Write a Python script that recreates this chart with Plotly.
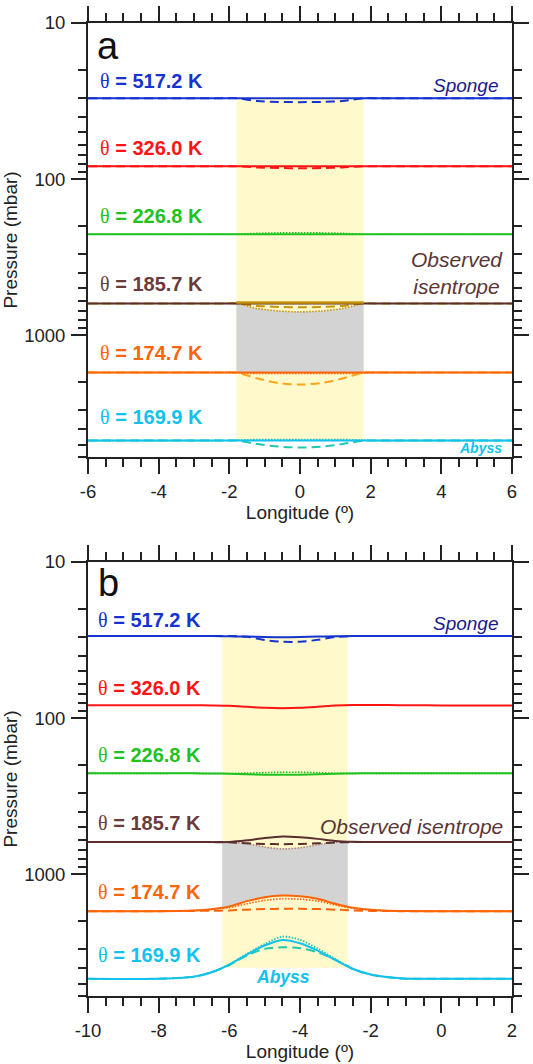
import numpy as np
import plotly.graph_objects as go

# ---------------- DATA ----------------
# Panel a (longitude -6..6)
xa = [-6, -3, -2.2, -1.8, -1.2, -0.6, 0, 0.6, 1.2, 1.8, 2.2, 3, 6]
a_blue_solid = [30.3] * 13
a_blue_dash = [30.3, 30.3, 30.3, 30.3, 31.6, 32.0, 32.1, 32.0, 31.6, 30.3, 30.3, 30.3, 30.3]
a_red_solid = [82.6] * 13
a_red_dash = [82.6, 82.6, 82.6, 82.6, 84.1, 84.8, 85.1, 84.8, 84.1, 82.6, 82.6, 82.6, 82.6]
a_green_solid = [225] * 13
a_green_dot = [225, 225, 225, 225, 222, 220.5, 220, 220.5, 222, 225, 225, 225, 225]
a_brown_solid = [624] * 13
a_ochre_solid = [None, None, None, 616, 616, 616, 616, 616, 616, 616, None, None, None]
a_ochre_dash = [624, 624, 624, 624, 647, 657, 661, 657, 647, 624, 624, 624, 624]
a_ochre_dot = [624, 624, 624, 624, 673, 697, 707, 697, 673, 624, 624, 624, 624]
a_orange_solid = [1727] * 13
a_orange_dot = [1727, 1727, 1727, 1740, 1753, 1753, 1753, 1753, 1753, 1740, 1727, 1727, 1727]
a_lorange_dash = [1727, 1727, 1727, 1727, 1887, 2017, 2062, 2017, 1887, 1727, 1727, 1727, 1727]
a_cyan_solid = [4710] * 13
a_teal_dash = [4710, 4710, 4710, 4710, 4960, 5146, 5220, 5146, 4960, 4710, 4710, 4710, 4710]
a_teal_dot = [4710, 4710, 4710, 4680, 4640, 4640, 4640, 4640, 4640, 4680, 4710, 4710, 4710]

a_yellow_x = [-1.8, 1.8]
a_yellow_p = [30.3, 4710]
a_grey_x = [-1.8, -1.2, -0.6, 0, 0.6, 1.2, 1.8]
a_grey_top = [624, 673, 697, 707, 697, 673, 624]
a_grey_bot = [1727] * 7

# Panel b (longitude -10..2)
xb = [-10, -8, -7, -6.5, -6, -5.5, -5, -4.5, -4, -3.5, -3, -2.5, -2, -1.5, -1, 0, 2]
b_blue_solid = [29.8, 29.8, 29.8, 29.8, 29.9, 30.0, 30.2, 30.3, 30.2, 30.0, 29.9, 29.8, 29.8, 29.8, 29.8, 29.8, 29.8]
b_blue_dash = [29.8, 29.8, 29.8, 29.8, 29.8, 30.1, 31.6, 32.4, 32.4, 31.5, 30.2, 29.8, 29.8, 29.8, 29.8, 29.8, 29.8]
b_red_solid = [82.6, 82.6, 82.5, 82.8, 83.3, 84.6, 85.8, 86.3, 85.8, 84.5, 83.0, 82.3, 82.2, 82.4, 82.6, 82.8, 83.0]
b_green_solid = [225.3, 225.3, 225.3, 225.8, 226.5, 228.5, 229.8, 230.3, 229.8, 228.3, 226.5, 225.5, 225.3, 225.3, 225.3, 225.3, 225.3]
b_green_dot = [225.3, 225.3, 225.3, 225.8, 226.0, 224.5, 223.0, 222.0, 222.0, 223.0, 225.0, 225.5, 225.3, 225.3, 225.3, 225.3, 225.3]
b_brown_solid = [621, 621, 621, 621, 620, 605, 585, 572, 578, 592, 610, 618, 620, 621, 621, 621, 621]
b_brown_dash = [621, 621, 621, 621, 622, 632, 638, 640, 638, 632, 624, 621, 621, 621, 621, 621, 621]
b_brown_dot = [621, 621, 621, 621, 621, 635, 668, 686, 675, 645, 623, 621, 621, 621, 621, 621, 621]
b_orange_solid = [1718, 1718, 1702, 1668, 1604, 1482, 1398, 1364, 1377, 1432, 1542, 1636, 1685, 1710, 1716, 1718, 1718]
b_orange_dot = [1718, 1718, 1702, 1672, 1630, 1540, 1465, 1432, 1440, 1480, 1570, 1650, 1690, 1712, 1716, 1718, 1718]
b_orange_dash = [1718, 1718, 1712, 1708, 1700, 1680, 1665, 1660, 1660, 1665, 1680, 1700, 1712, 1716, 1718, 1718, 1718]
b_cyan_solid = [4660, 4650, 4510, 4230, 3780, 3260, 2850, 2625, 2755, 3070, 3525, 4030, 4375, 4550, 4645, 4660, 4660]
b_teal_dash = [4660, 4650, 4510, 4230, 3800, 3300, 2995, 2925, 2965, 3150, 3525, 4030, 4375, 4550, 4645, 4660, 4660]
b_teal_dot = [4660, 4650, 4510, 4230, 3760, 3220, 2790, 2500, 2620, 2980, 3480, 4000, 4375, 4550, 4645, 4660, 4660]

b_yellow_x = [-6.2, -2.65]
b_yellow_p = [29.8, 3960]
b_grey_x = [-6.2, -6, -5.5, -5, -4.5, -4, -3.5, -3, -2.65]
b_grey_top = [621, 621, 635, 668, 686, 675, 645, 623, 621]
b_grey_bot = [1635, 1604, 1482, 1398, 1364, 1377, 1432, 1542, 1610]

theta_labels = ["517.2 K", "326.0 K", "226.8 K", "185.7 K", "174.7 K", "169.9 K"]
y_tickvals = [10, 100, 1000]
y_minor = [20, 30, 40, 50, 60, 70, 80, 90, 200, 300, 400, 500, 600, 700, 800, 900,
           2000, 3000, 4000, 5000, 6000]
xa_ticks = [-6, -4, -2, 0, 2, 4, 6]
xb_ticks = [-10, -8, -6, -4, -2, 0, 2]

# ---------------- STYLE ----------------
W, H = 533, 1064
BLUE = "#1533d0"
RED = "#ff1414"
GREEN = "#1fc21f"
BROWN = "#5a2e2e"
OCHRE = "#c8950a"
ORANGE = "#ff6408"
LORANGE = "#ffa41a"
CYAN = "#12c2ec"
TEAL = "#1fc8b0"
LBROWN = "#b48474"
YELLOW = "#fff9cc"
GREY = "#d3d3d3"
FONT = "Liberation Sans"

fig = go.Figure()


def add_fill(xs, top, bot, color, xaxis, yaxis):
    fig.add_trace(go.Scatter(
        x=list(xs) + list(xs)[::-1], y=list(top) + list(bot)[::-1],
        fill="toself", fillcolor=color, line=dict(width=0), mode="lines",
        hoverinfo="skip", showlegend=False, xaxis=xaxis, yaxis=yaxis))


def add_line(xs, ys, color, dash, width, xaxis, yaxis):
    fig.add_trace(go.Scatter(
        x=xs, y=ys, mode="lines", line=dict(color=color, dash=dash, width=width, shape="spline", smoothing=0.8),
        showlegend=False, hoverinfo="skip", xaxis=xaxis, yaxis=yaxis, connectgaps=False))


# panel a fills
add_fill(a_yellow_x, [a_yellow_p[0]] * 2, [a_yellow_p[1]] * 2, YELLOW, "x", "y")
add_fill(a_grey_x, a_grey_top, a_grey_bot, GREY, "x", "y")
# panel b fills
add_fill(b_yellow_x, [b_yellow_p[0]] * 2, [b_yellow_p[1]] * 2, YELLOW, "x2", "y2")
add_fill(b_grey_x, b_grey_top, b_grey_bot, GREY, "x2", "y2")

DASH = "9px,5px"
DOT = "1.5px,1.5px"
LW = 2
# panel a lines
for ys, c, d, w in [
    (a_blue_dash, BLUE, DASH, LW), (a_blue_solid, BLUE, "solid", LW),
    (a_red_dash, RED, DASH, LW), (a_red_solid, RED, "solid", LW),
    (a_green_dot, GREEN, DOT, 1.6), (a_green_solid, GREEN, "solid", LW),
    (a_ochre_dot, OCHRE, DOT, 1.6), (a_ochre_dash, OCHRE, DASH, LW),
    (a_brown_solid, BROWN, "solid", LW), (a_ochre_solid, OCHRE, "solid", 2.4),
    (a_orange_dot, ORANGE, DOT, 1.6), (a_lorange_dash, LORANGE, DASH, LW),
    (a_orange_solid, ORANGE, "solid", LW),
    (a_teal_dot, TEAL, DOT, 1.6), (a_teal_dash, TEAL, DASH, LW),
    (a_cyan_solid, CYAN, "solid", LW),
]:
    add_line(xa, ys, c, d, w, "x", "y")

# panel b lines
for ys, c, d, w in [
    (b_blue_dash, BLUE, DASH, LW), (b_blue_solid, BLUE, "solid", LW),
    (b_red_solid, RED, "solid", LW),
    (b_green_dot, GREEN, DOT, 1.6), (b_green_solid, GREEN, "solid", LW),
    (b_brown_dot, LBROWN, DOT, 1.6), (b_brown_dash, BROWN, DASH, LW),
    (b_brown_solid, BROWN, "solid", LW),
    (b_orange_dot, ORANGE, DOT, 1.6), (b_orange_dash, ORANGE, DASH, LW),
    (b_orange_solid, ORANGE, "solid", LW),
    (b_teal_dot, TEAL, DOT, 1.8), (b_teal_dash, TEAL, DASH, LW),
    (b_cyan_solid, CYAN, "solid", LW),
]:
    add_line(xb, ys, c, d, w, "x2", "y2")

# ---------------- AXES ----------------
def px_x(px):
    return px / W


def px_y(py):
    return 1 - py / H


axis_common = dict(
    showline=True, linewidth=2, linecolor="#222", mirror="allticks",
    ticks="outside", ticklen=15, tickwidth=1.5, tickcolor="#222",
    showgrid=False, zeroline=False, automargin=False,
    tickfont=dict(family=FONT, size=18.5, color="#222"),
)

xdom = [px_x(88), px_x(512)]
x_common = dict(axis_common, domain=xdom,
                minor=dict(ticks="outside", ticklen=8, dtick=0.5, tick0=0, tickwidth=1.5, tickcolor="#222"),
                title=dict(text="Longitude (º)", font=dict(family=FONT, size=19, color="#222"), standoff=2),
                ticklabelstandoff=2)
xa_ax = dict(x_common, range=[-6, 6], tickvals=xa_ticks, ticktext=[str(v) for v in xa_ticks])
xb_ax = dict(x_common, range=[-10, 2], tickvals=xb_ticks, ticktext=[str(v) for v in xb_ticks])

ya_ax = dict(axis_common, type="log", range=[np.log10(6000), 1],
             tickvals=y_tickvals, ticktext=[str(v) for v in y_tickvals],
             minor=dict(ticks="outside", ticklen=8, tickvals=y_minor, tickwidth=1.5, tickcolor="#222"),
             title=dict(text="Pressure (mbar)", font=dict(family=FONT, size=19, color="#222"), standoff=4),
             ticklabelstandoff=2)

fig.update_layout(
    width=W, height=H, margin=dict(l=0, r=0, t=0, b=0),
    paper_bgcolor="white", plot_bgcolor="rgba(0,0,0,0)",
    xaxis=dict(xa_ax, anchor="y"),
    yaxis=dict(ya_ax, domain=[px_y(457), px_y(23)], anchor="x"),
    xaxis2=dict(xb_ax, anchor="y2"),
    yaxis2=dict(ya_ax, domain=[px_y(996), px_y(562)], anchor="x2"),
    showlegend=False,
)

# ---------------- ANNOTATIONS ----------------
colors = [BLUE, RED, GREEN, "#6a3b3b", ORANGE, CYAN]
a_label_y = [81, 148, 216, 284, 353, 417]
b_label_y = [620, 688, 755, 823, 892, 955]


def ann(text, x, y, size, color, xanchor="left", bold=False, italic=False, family=FONT):
    t = text
    if bold:
        t = "<b>" + t + "</b>"
    if italic:
        t = "<i>" + t + "</i>"
    fig.add_annotation(text=t, x=px_x(x), y=px_y(y), xref="paper", yref="paper",
                       xanchor=xanchor, yanchor="middle", showarrow=False,
                       font=dict(family=family, size=size, color=color))


for lab, c, ya_, yb_ in zip(theta_labels, colors, a_label_y, b_label_y):
    txt = "<span style='font-family:Liberation Serif'>θ</span><b> = " + lab + "</b>"
    ann(txt, 98, ya_, 20, c)
    ann(txt, 96, yb_, 20, c)

ann("a", 95, 46, 38, "#111")
ann("b", 96, 583, 38, "#111")
ann("Sponge", 501, 85, 19, "#1a1a8c", xanchor="right", italic=True)
ann("Sponge", 501, 623, 19, "#1a1a8c", xanchor="right", italic=True)
ann("Observed<br>isentrope", 505, 273, 21, "#5a3535", xanchor="right", italic=True)
ann("Observed isentrope", 505, 826, 21, "#5a3535", xanchor="right", italic=True)
ann("Abyss", 504, 448, 14, CYAN, xanchor="right", italic=True, bold=True)
ann("Abyss", 283, 977, 17.5, CYAN, xanchor="center", italic=True, bold=True)

fig.write_html("out.html")
